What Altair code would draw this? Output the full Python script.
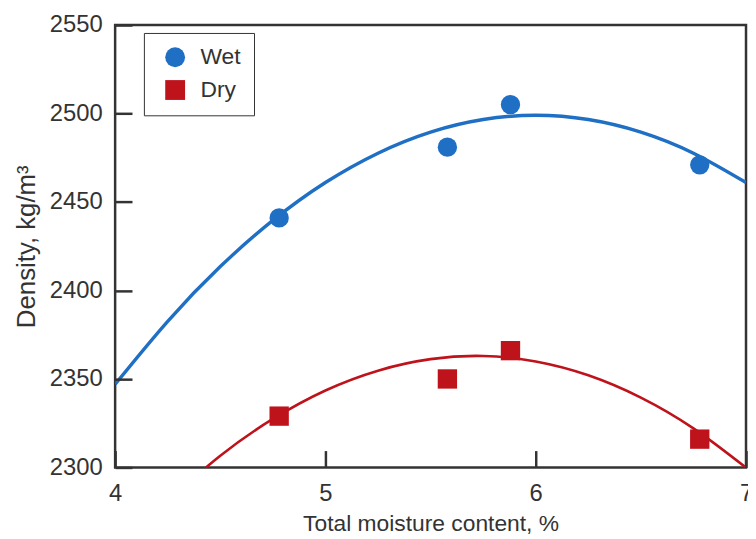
import altair as alt
import pandas as pd

# measured points
moisture = [4.78, 5.58, 5.88, 6.78]
wet_density = [2441, 2481, 2505, 2471]
dry_density = [2329, 2350, 2366, 2316]

# fitted curves (evenly spaced in x)
wet_curve_x = [4.0, 4.25, 4.5, 4.75, 5.0, 5.25, 5.5, 5.75, 6.0, 6.25, 6.5, 6.75, 7.0]
wet_curve_y = [2347, 2382.6, 2413.5, 2439.6, 2461, 2477.6, 2489.5, 2496.6, 2499,
               2496.6, 2489.5, 2477.6, 2461]
dry_curve_x = [4.25, 4.5, 4.75, 5.0, 5.25, 5.5, 5.75, 6.0, 6.25, 6.5, 6.75, 7.0]
dry_curve_y = [2281, 2306.6, 2327.4, 2343.5, 2354.7, 2361.2, 2363, 2359.9, 2352.1,
               2339.5, 2322.1, 2299.9]

series = ["Wet", "Dry"]
colors = ["#1f6fc4", "#bf131c"]
shapes = ["circle", "square"]

x_ticks = [4, 5, 6, 7]
y_ticks = [2300, 2350, 2400, 2450, 2500, 2550]

W, H = 636, 446
FONT = "Liberation Sans"
TXT = "#333333"
FRAME = "#333333"

pts = pd.DataFrame({
    "x": moisture + moisture,
    "y": wet_density + dry_density,
    "series": ["Wet"] * len(moisture) + ["Dry"] * len(moisture),
})
wet_df = pd.DataFrame({"x": wet_curve_x, "y": wet_curve_y})
dry_df = pd.DataFrame({"x": dry_curve_x, "y": dry_curve_y})

xscale = alt.Scale(domain=[4, 7], nice=False, zero=False)
yscale = alt.Scale(domain=[2300, 2550], nice=False, zero=False)

# axes shifted inward so that their outward ticks point into the plot
xaxis = alt.Axis(values=x_ticks, title="Total moisture content, %",
                 offset=-17, ticks=True, tickSize=17, tickWidth=2.5, tickColor=FRAME,
                 tickOpacity=1, zindex=1,
                 domain=False, grid=False, labelPadding=14, titlePadding=8,
                 labelFlush=False, format="d", labelFontSize=24, titleFontSize=23)
yaxis = alt.Axis(values=y_ticks, title="Density, kg/m³",
                 offset=-17, ticks=True, tickSize=17, tickWidth=2.5, tickColor=FRAME,
                 tickOpacity=1, zindex=1,
                 domain=False, grid=False, labelPadding=13, titlePadding=10,
                 labelFlush=False, format="d", labelFontSize=24, titleFontSize=26)

wet_line = alt.Chart(wet_df).mark_line(interpolate="natural", clip=True, strokeWidth=3.4,
                                       color=colors[0]).encode(
    x=alt.X("x:Q", scale=xscale, axis=xaxis),
    y=alt.Y("y:Q", scale=yscale, axis=yaxis),
)
dry_line = alt.Chart(dry_df).mark_line(interpolate="natural", clip=True, strokeWidth=2.6,
                                       color=colors[1]).encode(
    x=alt.X("x:Q", scale=xscale),
    y=alt.Y("y:Q", scale=yscale),
)

leg = alt.Legend(title=None, orient="none", legendX=29, legendY=8,
                 symbolSize=400, symbolOffset=7, labelOffset=14,
                 padding=13, rowPadding=9, strokeColor=FRAME)

points = alt.Chart(pts).mark_point(filled=True, opacity=1, size=380).encode(
    x=alt.X("x:Q", scale=xscale),
    y=alt.Y("y:Q", scale=yscale),
    color=alt.Color("series:N", scale=alt.Scale(domain=series, range=colors), legend=leg),
    shape=alt.Shape("series:N", scale=alt.Scale(domain=series, range=shapes), legend=leg),
)

chart = alt.layer(wet_line, dry_line, points).properties(
    width=W, height=H,
    autosize=alt.AutoSizeParams(type="none"),
    padding={"left": 108, "top": 15, "right": 2, "bottom": 75},
).configure_view(
    stroke=FRAME, strokeWidth=2.5
).configure_axis(
    labelFont=FONT, titleFont=FONT,
    labelColor=TXT, titleColor=TXT, titleFontWeight="normal",
).configure_legend(
    labelFont=FONT, labelFontSize=23, labelColor=TXT,
)

chart.save("out.html", embed_options={"renderer": "svg", "actions": False})
